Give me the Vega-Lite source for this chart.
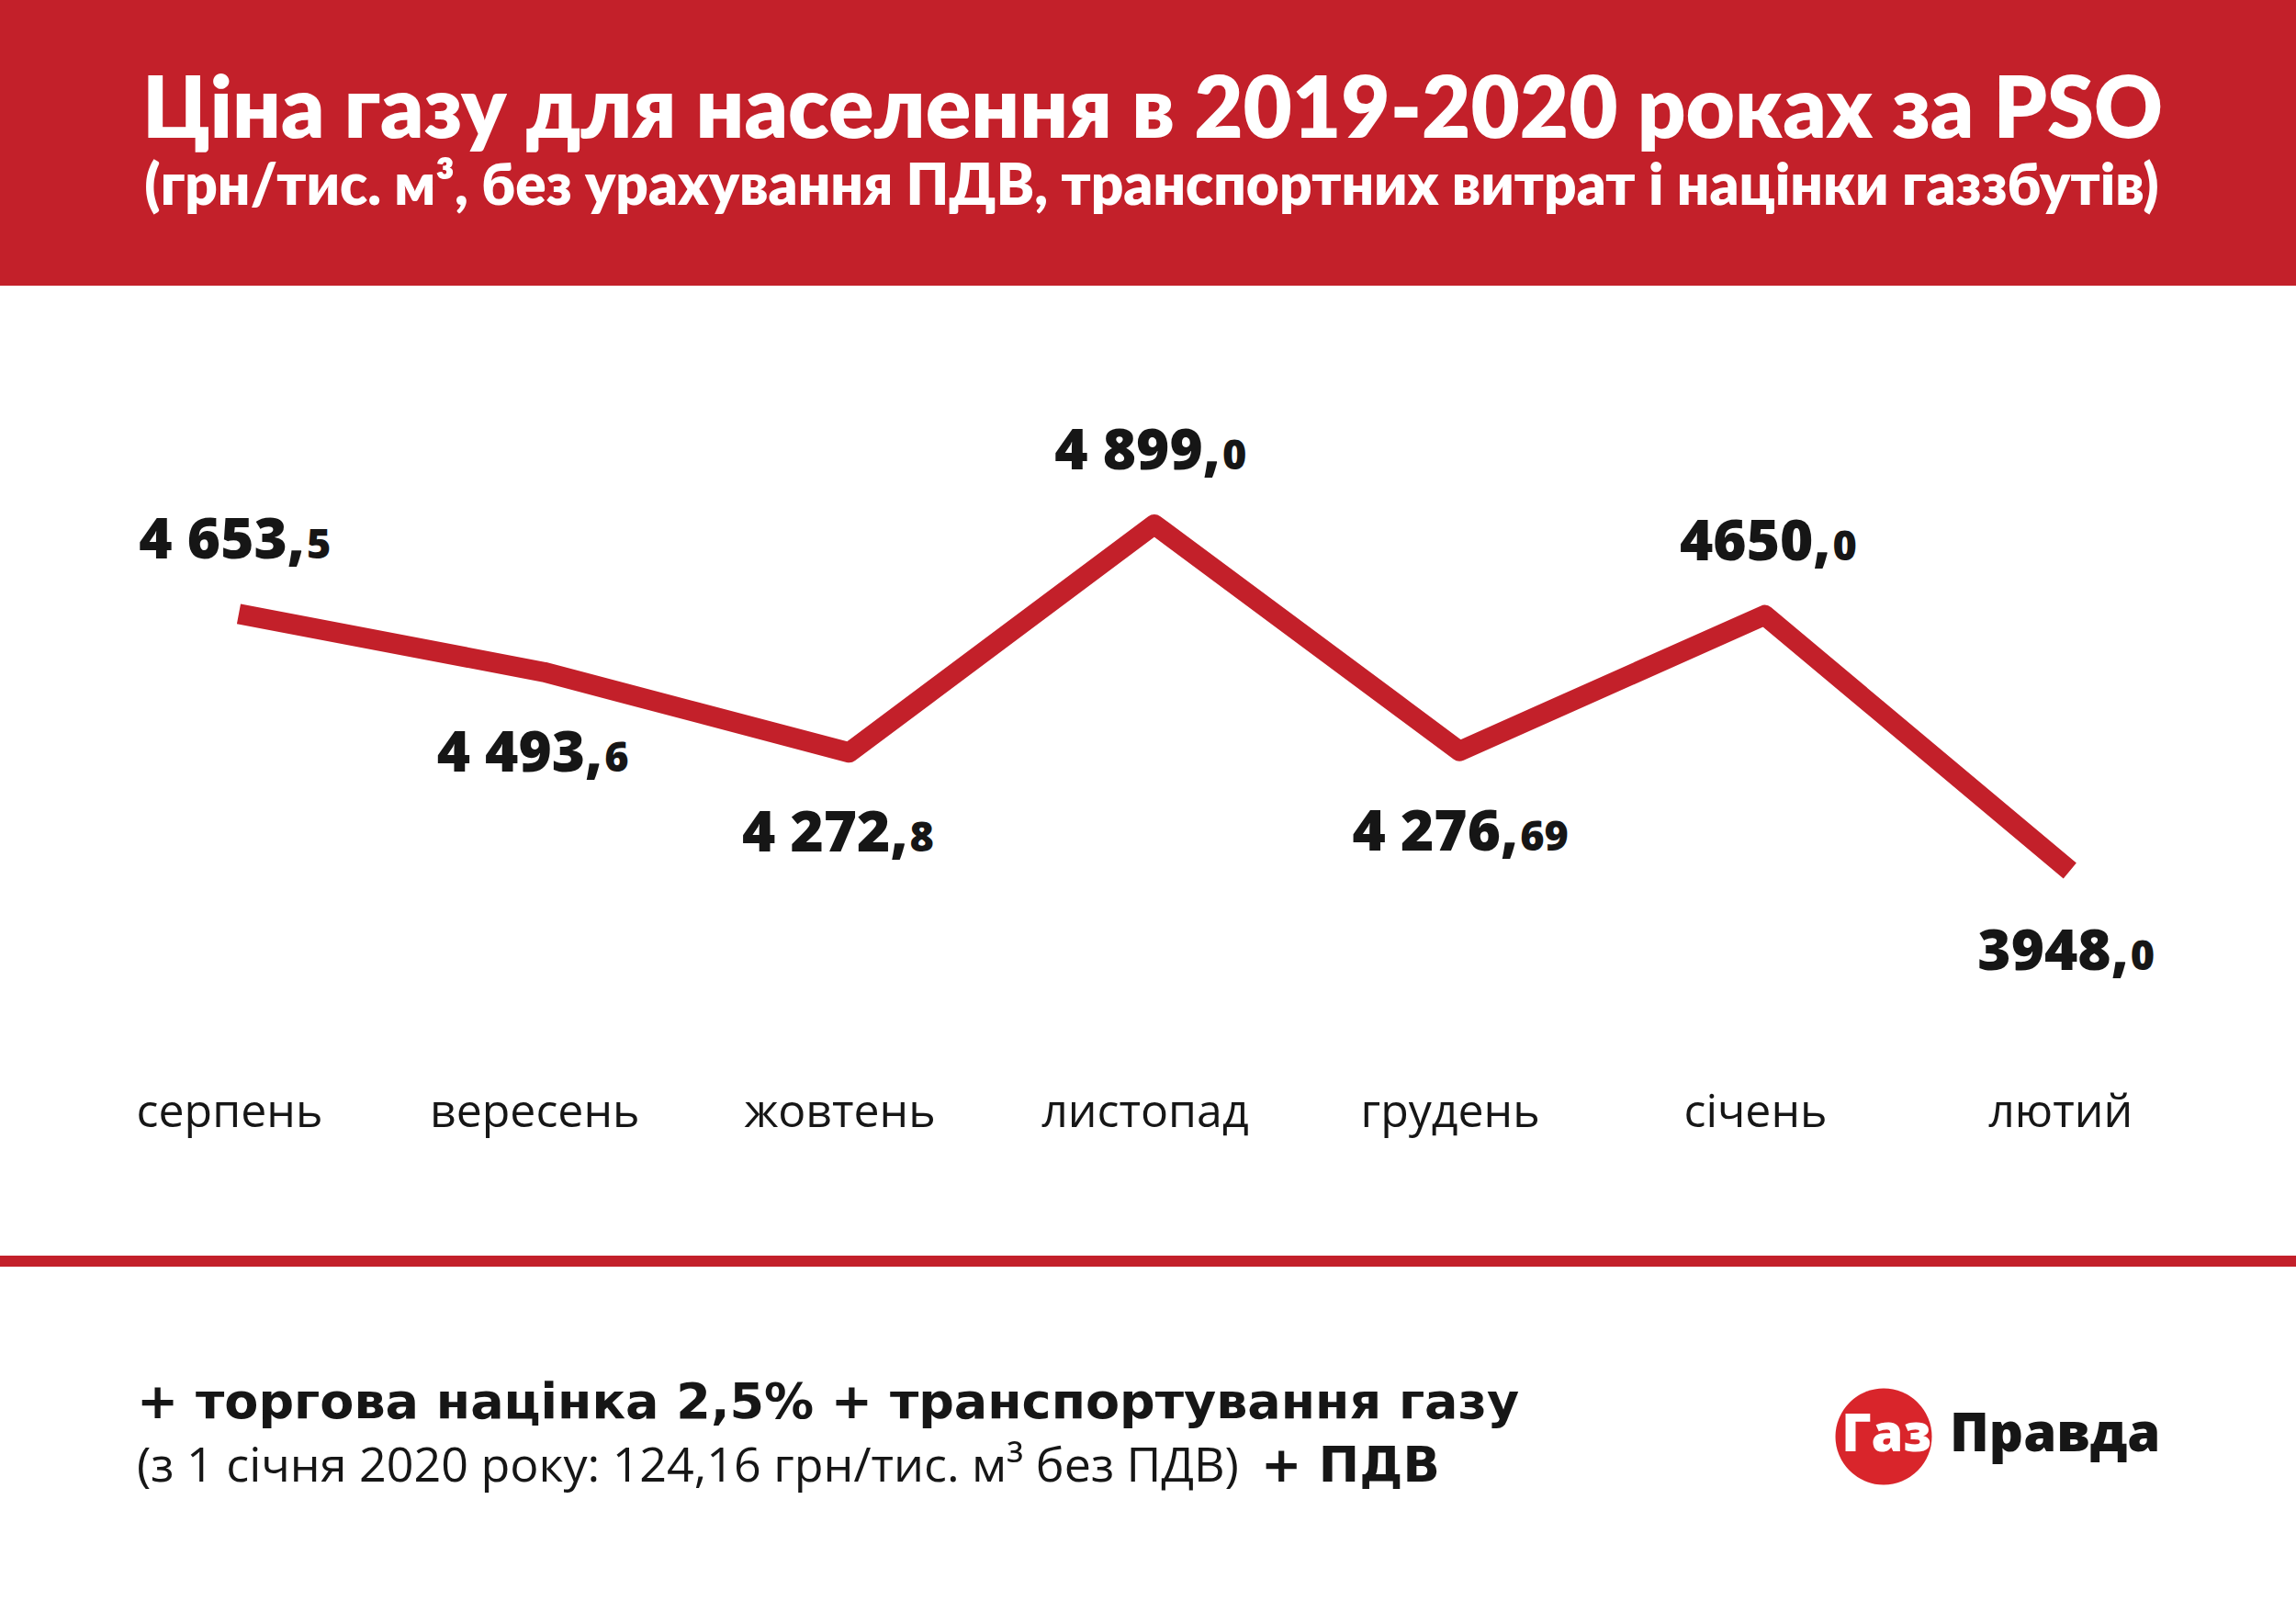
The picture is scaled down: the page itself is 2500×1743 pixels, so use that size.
{
  "$schema": "https://vega.github.io/schema/vega-lite/v6.json",
  "width": 2500,
  "height": 1743,
  "autosize": {"type": "fit", "contains": "padding"},
  "padding": 0,
  "background": "white",
  "config": {"view": {"stroke": null}},
  "data": {
    "values": [
      {"month": "серпень", "value": 4653.5, "int": "4 653,", "dec": "5"},
      {"month": "вересень", "value": 4493.6, "int": "4 493,", "dec": "6"},
      {"month": "жовтень", "value": 4272.8, "int": "4 272,", "dec": "8"},
      {"month": "листопад", "value": 4899.0, "int": "4 899,", "dec": "0"},
      {"month": "грудень", "value": 4276.69, "int": "4 276,", "dec": "69"},
      {"month": "січень", "value": 4650.0, "int": "4650,", "dec": "0"},
      {"month": "лютий", "value": 3948.0, "int": "3948,", "dec": "0"}
    ]
  },
  "layer": [
    {
      "data": {"values": [{}]},
      "mark": {"type": "rect", "color": "#C3202A"},
      "encoding": {"x": {"value": 0}, "x2": {"value": 2500}, "y": {"value": 0}, "y2": {"value": 311}}
    },
    {
      "data": {"values": [{}]},
      "mark": {"type": "text", "text": "Ціна газу для населення в 2019-2020 роках за PSO", "align": "center", "baseline": "alphabetic", "font": "Lato", "fontWeight": 800, "fontSize": 92, "color": "white"},
      "encoding": {"x": {"value": 1255}, "y": {"value": 150}}
    },
    {
      "data": {"values": [{}]},
      "mark": {"type": "text", "text": "(грн/тис. м³, без урахування ПДВ, транспортних витрат і націнки газзбутів)", "align": "center", "baseline": "alphabetic", "font": "Lato", "fontWeight": 800, "fontSize": 62, "color": "white"},
      "encoding": {"x": {"value": 1254}, "y": {"value": 223}}
    },
    {
      "encoding": {
        "x": {"field": "month", "type": "ordinal", "sort": null, "scale": {"type": "point", "padding": 0.7616, "align": 0.5136, "round": false}, "axis": null},
        "y": {"field": "value", "type": "quantitative", "scale": {"domain": [1942.5, 6339.5], "zero": false, "nice": false}, "axis": null}
      },
      "layer": [
        {"mark": {"type": "line", "color": "#C3202A", "strokeWidth": 22, "strokeJoin": "round", "strokeCap": "butt"}},
        {
          "transform": [{"filter": {"field": "month", "oneOf": ["серпень", "листопад", "січень"]}}],
          "mark": {"type": "text", "align": "right", "baseline": "alphabetic", "dx": 72, "dy": -60, "font": "Open Sans", "fontWeight": 800, "fontSize": 62, "color": "#161616"},
          "encoding": {"text": {"field": "int"}}
        },
        {
          "transform": [{"filter": {"field": "month", "oneOf": ["серпень", "листопад", "січень"]}}],
          "mark": {"type": "text", "align": "left", "baseline": "alphabetic", "dx": 74, "dy": -60, "font": "Open Sans", "fontWeight": 800, "fontSize": 45, "color": "#161616"},
          "encoding": {"text": {"field": "dec"}}
        },
        {
          "transform": [{"filter": {"not": {"field": "month", "oneOf": ["серпень", "листопад", "січень"]}}}],
          "mark": {"type": "text", "align": "right", "baseline": "alphabetic", "dx": 64, "dy": 108, "font": "Open Sans", "fontWeight": 800, "fontSize": 62, "color": "#161616"},
          "encoding": {"text": {"field": "int"}}
        },
        {
          "transform": [{"filter": {"not": {"field": "month", "oneOf": ["серпень", "листопад", "січень"]}}}],
          "mark": {"type": "text", "align": "left", "baseline": "alphabetic", "dx": 66, "dy": 108, "font": "Open Sans", "fontWeight": 800, "fontSize": 45, "color": "#161616"},
          "encoding": {"text": {"field": "dec"}}
        },
        {
          "mark": {"type": "text", "align": "center", "baseline": "alphabetic", "dx": -10, "font": "Open Sans", "fontWeight": 500, "fontSize": 50, "color": "#161616"},
          "encoding": {"text": {"field": "month"}, "y": {"value": 1227}}
        }
      ]
    },
    {
      "data": {"values": [{}]},
      "mark": {"type": "rect", "color": "#C3202A"},
      "encoding": {"x": {"value": 0}, "x2": {"value": 2500}, "y": {"value": 1367}, "y2": {"value": 1379}}
    },
    {
      "data": {"values": [{}]},
      "mark": {"type": "text", "text": "+ торгова націнка 2,5% + транспортування газу", "align": "left", "baseline": "alphabetic", "font": "DejaVu Sans", "fontWeight": "bold", "fontSize": 54, "color": "#161616"},
      "encoding": {"x": {"value": 149}, "y": {"value": 1544}}
    },
    {
      "data": {"values": [{}]},
      "mark": {"type": "text", "text": "(з 1 січня 2020 року: 124,16 грн/тис. м³ без ПДВ)", "align": "left", "baseline": "alphabetic", "font": "Open Sans", "fontWeight": 400, "fontSize": 52, "color": "#161616"},
      "encoding": {"x": {"value": 149}, "y": {"value": 1613}}
    },
    {
      "data": {"values": [{}]},
      "mark": {"type": "text", "text": "+ ПДВ", "align": "left", "baseline": "alphabetic", "font": "DejaVu Sans", "fontWeight": "bold", "fontSize": 53, "color": "#161616"},
      "encoding": {"x": {"value": 1373}, "y": {"value": 1613}}
    },
    {
      "data": {"values": [{}]},
      "mark": {"type": "point", "shape": "circle", "filled": true, "size": 11025, "color": "#D9252B", "opacity": 1},
      "encoding": {"x": {"value": 2051}, "y": {"value": 1564}}
    },
    {
      "data": {"values": [{}]},
      "mark": {"type": "text", "text": "Газ", "align": "center", "baseline": "alphabetic", "font": "Open Sans", "fontWeight": 800, "fontSize": 56, "color": "white"},
      "encoding": {"x": {"value": 2054}, "y": {"value": 1580}}
    },
    {
      "data": {"values": [{}]},
      "mark": {"type": "text", "text": "Правда", "align": "left", "baseline": "alphabetic", "font": "Open Sans", "fontWeight": 800, "fontSize": 58, "color": "#161616"},
      "encoding": {"x": {"value": 2123}, "y": {"value": 1580}}
    }
  ]
}
